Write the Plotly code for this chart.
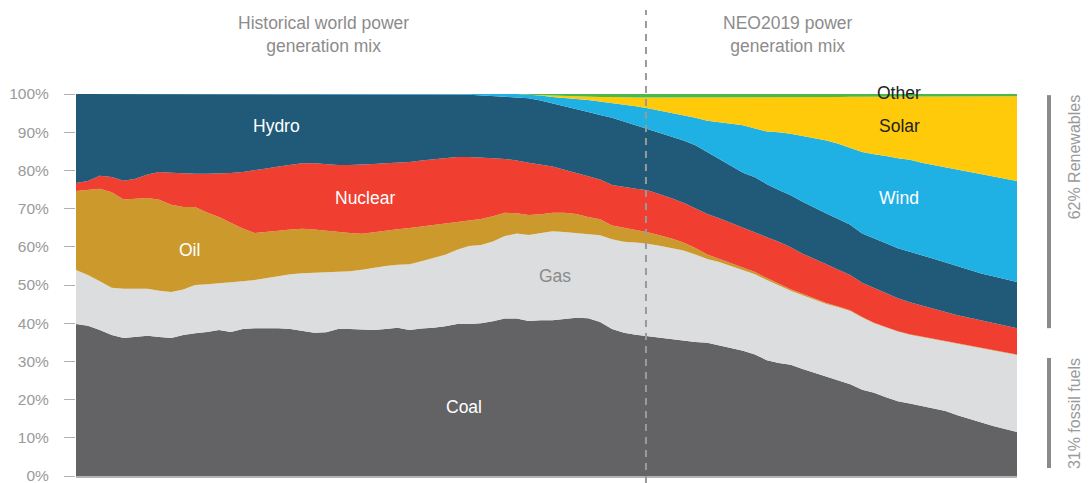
import plotly.graph_objects as go

years = list(range(1971, 2051))

coal = [39.8, 39.3, 38.2, 36.9, 36.1, 36.4, 36.7, 36.4, 36.1, 36.9,
        37.4, 37.7, 38.2, 37.7, 38.5, 38.7, 38.7, 38.7, 38.5, 38.0,
        37.5, 37.6, 38.5, 38.5, 38.3, 38.2, 38.5, 38.8, 38.2, 38.6,
        38.8, 39.2, 39.8, 39.8, 40.0, 40.5, 41.2, 41.2, 40.6, 40.8,
        40.8, 41.2, 41.4, 41.3, 40.3, 38.5, 37.5, 37.0, 36.6, 36.2,
        35.9, 35.4, 35.1, 34.9, 34.2, 33.6, 32.8, 31.8, 30.3, 29.6,
        29.1, 28.0, 27.0, 26.1, 25.2, 24.0, 22.6, 21.8, 20.6, 19.6,
        19.0, 18.3, 17.7, 17.0, 15.9, 14.9, 14.0, 13.1, 12.3, 11.5]

gas = [14.1, 13.3, 12.8, 12.4, 12.9, 12.6, 12.3, 12.1, 12.1, 11.9,
       12.6, 12.5, 12.2, 13.0, 12.5, 12.6, 13.1, 13.6, 14.3, 15.1,
       15.7, 15.7, 14.9, 15.1, 15.7, 16.3, 16.5, 16.5, 17.2, 17.6,
       18.2, 18.7, 19.4, 20.4, 20.5, 20.9, 21.6, 22.3, 22.5, 22.8,
       23.3, 22.7, 22.2, 22.1, 22.7, 23.5, 23.8, 24.1, 24.2, 24.1,
       23.8, 23.6, 22.9, 21.9, 21.8, 21.4, 21.2, 21.0, 21.0, 20.2,
       19.4, 19.3, 19.1, 18.9, 19.0, 19.2, 18.9, 18.2, 18.3, 18.2,
       18.0, 18.1, 18.0, 18.1, 18.6, 19.0, 19.3, 19.7, 19.9, 20.2]

oil = [20.7, 22.2, 24.2, 25.0, 23.4, 23.6, 23.8, 23.8, 22.8, 21.6,
       20.4, 18.8, 17.4, 15.6, 13.8, 12.3, 12.0, 11.9, 11.7, 11.6,
       11.3, 10.9, 10.4, 10.0, 9.4, 9.3, 9.3, 9.3, 9.5, 9.1,
       8.7, 8.2, 7.3, 6.7, 6.8, 6.6, 6.1, 5.3, 5.2, 4.9,
       4.8, 5.0, 5.0, 4.4, 4.2, 3.6, 3.7, 3.5, 3.0, 2.7,
       2.5, 2.1, 1.7, 1.2, 0.9, 0.8, 0.7, 0.6, 0.5, 0.5,
       0.4, 0.4, 0.3, 0.3, 0.2, 0.2, 0.1, 0.1, 0.1, 0.1,
       0.1, 0.1, 0.1, 0.1, 0.1, 0.1, 0.1, 0.1, 0.1, 0.1]

nuclear = [2.1, 2.4, 3.4, 4.0, 4.9, 5.2, 6.1, 7.3, 8.4, 8.8,
           8.7, 10.1, 11.4, 13.0, 14.8, 16.4, 16.7, 16.8, 17.0, 17.2,
           17.4, 17.5, 17.6, 17.8, 18.1, 17.9, 17.6, 17.4, 17.3, 17.3,
           17.2, 17.2, 17.0, 16.6, 16.1, 15.2, 14.1, 13.8, 13.7, 13.0,
           12.1, 11.3, 10.7, 10.7, 10.4, 10.6, 10.6, 10.6, 11.0, 10.8,
           10.5, 10.4, 10.3, 10.6, 10.6, 10.4, 10.3, 10.4, 10.7, 11.0,
           11.0, 10.5, 10.3, 10.1, 9.6, 9.2, 9.0, 9.1, 8.9, 8.6,
           8.4, 8.1, 7.9, 7.7, 7.5, 7.4, 7.3, 7.1, 7.1, 6.9]

hydro = [23.3, 22.8, 21.4, 21.7, 22.7, 22.2, 21.1, 20.4, 20.6, 20.8,
         20.9, 20.9, 20.8, 20.7, 20.4, 20.0, 19.5, 19.0, 18.5, 18.1,
         18.1, 18.3, 18.6, 18.6, 18.5, 18.3, 18.1, 18.0, 17.8, 17.4,
         17.1, 16.7, 16.4, 16.3, 16.3, 16.3, 16.3, 16.5, 16.9, 16.8,
         16.6, 16.6, 16.8, 16.8, 16.9, 17.6, 17.2, 16.6, 16.2, 16.0,
         16.3, 16.3, 16.6, 16.2, 15.5, 14.8, 14.4, 14.4, 13.9, 13.6,
         13.6, 13.6, 13.5, 13.3, 13.3, 13.2, 12.9, 12.9, 13.0, 13.1,
         13.3, 13.2, 13.2, 13.0, 12.9, 12.5, 12.3, 12.3, 12.1, 12.1]

wind = [0.0] * 32 + [
        0.1, 0.2, 0.3, 0.5, 0.7, 0.9, 0.9, 1.3,
        1.6, 2.2, 2.6, 3.1, 3.5, 3.9, 4.5, 5.0, 5.3, 5.9,
        6.2, 6.7, 7.2, 8.2, 9.6, 11.2, 12.4, 12.8, 13.8, 15.1,
        16.1, 17.2, 18.2, 19.1, 19.7, 20.2, 21.3, 22.1, 22.9, 23.6,
        24.0, 24.2, 24.5, 24.8, 25.1, 25.6, 25.9, 26.1, 26.3, 26.4]

solar = [0.0] * 39 + [
         0.1,
         0.3, 0.5, 0.7, 0.9, 1.2, 1.5, 1.8, 2.3, 2.8, 3.4,
         3.9, 4.6, 5.3, 6.1, 6.5, 6.9, 7.3, 8.1, 8.9, 9.1,
         9.6, 10.2, 10.8, 11.4, 12.2, 13.3, 14.5, 15.1, 15.5, 16.1,
         16.5, 17.4, 18.0, 18.7, 19.3, 19.9, 20.5, 21.0, 21.6, 22.2]

other = [0.0] * 38 + [
         0.2, 0.3,
         0.4, 0.5, 0.6, 0.7, 0.8, 0.8, 0.9, 0.9, 0.9, 0.9,
         0.9, 0.9, 0.9, 0.9, 0.9, 0.9, 0.9, 0.9, 0.9, 0.9,
         0.8, 0.8, 0.8, 0.8, 0.8, 0.7, 0.7, 0.7, 0.7, 0.7,
         0.7, 0.6, 0.6, 0.6, 0.6, 0.6, 0.6, 0.6, 0.6, 0.6]

series = [
    ("Coal", coal, "#636365"),
    ("Gas", gas, "#dcdddf"),
    ("Oil", oil, "#cc9a2c"),
    ("Nuclear", nuclear, "#f03e30"),
    ("Hydro", hydro, "#215a78"),
    ("Wind", wind, "#20b1e4"),
    ("Solar", solar, "#ffca0a"),
    ("Other", other, "#4cb848"),
]

y_ticks = [0, 10, 20, 30, 40, 50, 60, 70, 80, 90, 100]
y_tick_labels = [f"{v}%" for v in y_ticks]

FONT = "Liberation Sans, Arial, sans-serif"
LABEL_SIZE = 17.5

fig = go.Figure()
for name, vals, col in series:
    fig.add_trace(go.Scatter(
        x=years, y=vals, name=name, mode="lines",
        stackgroup="one", line=dict(width=0, color=col),
        fillcolor=col, hoverinfo="x+y+name",
    ))

labels = [
    ("Hydro", 1987.8, 91.6, "white"),
    ("Nuclear", 1995.3, 72.8, "white"),
    ("Oil", 1980.5, 59.2, "white"),
    ("Gas", 2011.2, 52.4, "#8a8a8a"),
    ("Coal", 2003.6, 18.1, "white"),
    ("Solar", 2040.1, 91.6, "#222222"),
    ("Wind", 2040.1, 72.8, "white"),
]
for txt, xv, yv, col in labels:
    fig.add_annotation(x=xv, y=yv, text=txt, showarrow=False,
                       xanchor="center", yanchor="middle",
                       font=dict(family=FONT, size=LABEL_SIZE, color=col))

fig.add_annotation(x=2040.1, yref="paper", y=1.003, text="Other", showarrow=False,
                   xanchor="center", yanchor="middle",
                   font=dict(family=FONT, size=LABEL_SIZE, color="#222222"))

# section titles
fig.add_annotation(xref="paper", yref="paper", x=(323 - 76) / 941, y=1.094,
                   text="Historical world power<br>generation mix", showarrow=False,
                   xanchor="center", yanchor="bottom",
                   font=dict(family=FONT, size=17.5, color="#8c8c8c"))
fig.add_annotation(xref="paper", yref="paper", x=(788 - 76) / 941, y=1.094,
                   text="NEO2019 power<br>generation mix", showarrow=False,
                   xanchor="center", yanchor="bottom",
                   font=dict(family=FONT, size=17.5, color="#8c8c8c"))

# divider between history and forecast
fig.add_shape(type="line", xref="x", yref="paper", x0=2018.85, x1=2018.85,
              y0=-0.018, y1=1.22, line=dict(color="#9a9a9a", width=2, dash="7px,6px"))

# right brackets
bx = (1049 - 76) / 941
fig.add_shape(type="line", xref="paper", yref="y", x0=bx, x1=bx, y0=38.7, y1=99.7,
              line=dict(color="#8a8a8a", width=4))
fig.add_shape(type="line", xref="paper", yref="y", x0=bx, x1=bx, y0=2.1, y1=30.9,
              line=dict(color="#8a8a8a", width=4))
tx = (1074 - 76) / 941
fig.add_annotation(xref="paper", yref="paper", x=tx, y=1.003, text="62% Renewables",
                   textangle=-90, showarrow=False, xanchor="center", yanchor="top",
                   font=dict(family=FONT, size=16, color="#9a9a9a"))
fig.add_annotation(xref="paper", yref="y", x=tx, y=16.2, text="31% fossil fuels",
                   textangle=-90, showarrow=False, xanchor="center", yanchor="middle",
                   font=dict(family=FONT, size=16, color="#9a9a9a"))

fig.update_layout(
    width=1092, height=483,
    margin=dict(l=76, r=75, t=94, b=7, autoexpand=False),
    paper_bgcolor="white", plot_bgcolor="white",
    showlegend=False,
    font=dict(family=FONT),
    xaxis=dict(range=[1971, 2050], showgrid=False, zeroline=False,
               showticklabels=False, ticks="", showline=True, automargin=False,
               linecolor="#b4b4b4", linewidth=2),
    yaxis=dict(range=[0, 100], tickvals=y_ticks, ticktext=y_tick_labels,
               showgrid=False, zeroline=False, ticks="outside", ticklen=11,
               tickcolor="#b0b0b0", tickwidth=1, ticklabelstandoff=12,
               ticklabeloverflow="allow", automargin=False,
               tickfont=dict(family=FONT, size=15.5, color="#9a9a9a"),
               showline=False),
)

fig.write_html(
    "out.html",
    config={"displayModeBar": False},
    post_script="document.body.style.margin='0';document.body.style.overflow='hidden';",
)
